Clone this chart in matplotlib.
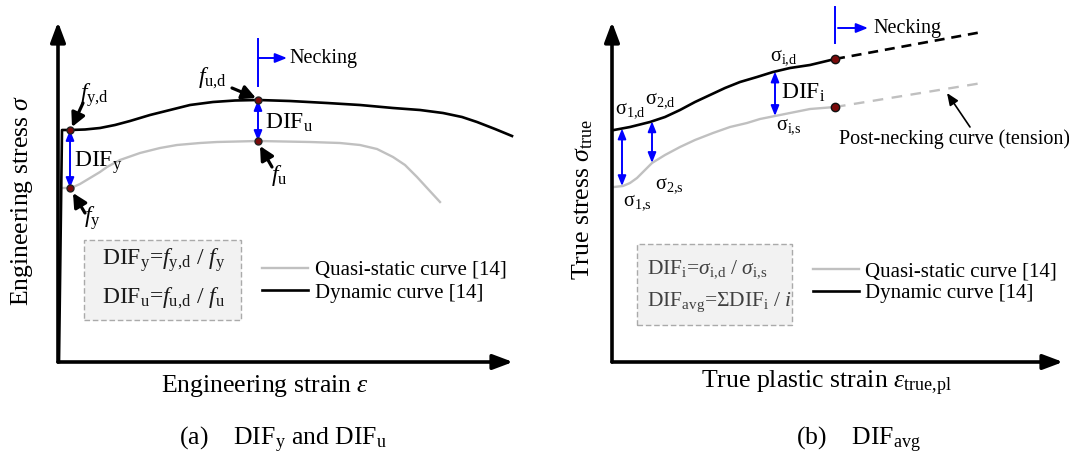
import matplotlib
matplotlib.use("Agg")
import matplotlib.pyplot as plt
import numpy as np
from matplotlib.patches import Rectangle

plt.rcParams['font.family'] = ['Liberation Serif', 'DejaVu Serif']
plt.rcParams['mathtext.fontset'] = 'custom'
plt.rcParams['mathtext.rm'] = 'Liberation Serif'
plt.rcParams['mathtext.it'] = 'Liberation Serif:italic'
plt.rcParams['mathtext.bf'] = 'Liberation Serif:bold'

# (a) engineering stress-strain, schematic units
eng_strain_dyn = [1, 4, 12, 27, 42, 57, 72, 92, 112, 132, 155, 177, 200, 232, 269,
                  302, 335, 362, 385, 404, 419, 437, 454]
eng_stress_dyn = [0, 232, 232, 232.5, 234, 237, 241, 247, 252, 257, 260, 261.5, 262,
                  261, 259, 257, 254, 252, 249, 245, 240, 233, 226]
eng_strain_qs = [5, 13, 22, 32, 42, 49, 62, 82, 102, 119, 142, 159, 200, 252, 282,
                 302, 319, 335, 347, 359, 370, 382]
eng_stress_qs = [174, 174, 178, 184, 190, 195, 202, 209, 214, 217, 219, 220, 221,
                 220, 219, 217, 213, 205, 197, 185, 173, 160]
yield_strain = 12
ult_strain = 200

# (b) true stress vs true plastic strain
true_strain_dyn = [2, 18, 38, 53, 68, 83, 98, 113, 128, 145, 161, 178, 198, 223]
true_stress_dyn = [232, 235, 240, 245, 252, 260, 267, 274, 280, 285, 290, 294, 297, 303]
true_strain_qs = [2, 11, 18, 25, 33, 40, 53, 68, 83, 101, 118, 135, 148, 163, 183, 198, 223]
true_stress_qs = [175, 176, 179, 184, 192, 199, 207, 215, 222, 229, 235, 239, 243, 246,
                  250, 253, 255]
post_strain = [223, 370]
post_stress_dyn = [303, 330]
post_stress_qs = [255, 279]
dif_strains = [10, 40, 163]

GRAY = '#c0c0c0'
BLUE = '#0000ff'
MARK = '#7a0a0a'

fig = plt.figure(figsize=(10.69, 4.61), dpi=100)
ax1 = fig.add_axes([0, 0, 540 / 1069, 1])
ax1.set_xlim(-58, 482)
ax1.set_ylim(-99, 362)
ax2 = fig.add_axes([540 / 1069, 0, 529 / 1069, 1])
ax2.set_xlim(-72, 457)
ax2.set_ylim(-99, 362)


def draw_axes(ax, xmax, ymax):
    style = '-|>,head_length=0.4,head_width=0.15'
    for end in [(xmax, 0), (0, ymax)]:
        ax.annotate('', xy=end, xytext=(0, 0),
                    arrowprops=dict(arrowstyle=style, lw=2.6, color='k',
                                    mutation_scale=30, shrinkA=0, shrinkB=0))
    ax.set_axis_off()


def arrow(ax, start, end, style, color, lw, scale):
    ax.annotate('', xy=end, xytext=start,
                arrowprops=dict(arrowstyle=style, lw=lw, color=color,
                                mutation_scale=scale, shrinkA=0, shrinkB=0))


dbl = '<|-|>,head_length=0.5,head_width=0.2'
ptr = '-|>,head_length=0.55,head_width=0.28'

# ---- panel (a)
draw_axes(ax1, 455, 340)
qs1, = ax1.plot(eng_strain_qs, eng_stress_qs, color=GRAY, lw=1.7)
dyn1, = ax1.plot(eng_strain_dyn, eng_stress_dyn, color='k', lw=1.9)

fyd = np.interp(yield_strain, eng_strain_dyn[1:], eng_stress_dyn[1:])
fy = np.interp(yield_strain, eng_strain_qs, eng_stress_qs)
fud = np.interp(ult_strain, eng_strain_dyn[1:], eng_stress_dyn[1:])
fu = np.interp(ult_strain, eng_strain_qs, eng_stress_qs)
arrow(ax1, (yield_strain, fy), (yield_strain, fyd), dbl, BLUE, 1.4, 12)
arrow(ax1, (ult_strain, fu), (ult_strain, fud), dbl, BLUE, 1.4, 12)
ax1.plot([yield_strain, yield_strain, ult_strain, ult_strain], [fyd, fy, fud, fu],
         'o', ms=5, mfc=MARK, mec='#222222', mew=1, zorder=5)

arrow(ax1, (25, 259), (14, 235), ptr, 'k', 2.3, 15)
arrow(ax1, (27, 149), (15, 169), ptr, 'k', 2.3, 15)
arrow(ax1, (174, 274), (198, 264), ptr, 'k', 2.3, 15)
arrow(ax1, (214, 195), (202, 216), ptr, 'k', 2.3, 15)
ax1.text(22, 267, r'$f_{\text{y,d}}$', fontsize=17, va='center')
ax1.text(26, 144, r'$f_{\text{y}}$', fontsize=17, va='center')
ax1.text(140, 284, r'$f_{\text{u,d}}$', fontsize=17, va='center')
ax1.text(213, 187, r'$f_{\text{u}}$', fontsize=17, va='center')
ax1.text(16, 195, r'DIF$_{\text{y}}$', fontsize=17, va='baseline')
ax1.text(207, 233, r'DIF$_{\text{u}}$', fontsize=17, va='baseline')

# necking marker
ax1.plot([ult_strain, ult_strain], [276, 323], color=BLUE, lw=1.4)
arrow(ax1, (ult_strain, 304), (229, 304), '-|>,head_length=0.5,head_width=0.2', BLUE, 1.4, 14)
ax1.text(231, 304, 'Necking', fontsize=14.5, va='center')

ax1.add_patch(Rectangle((26, 42), 157, 80, facecolor='#f2f2f2', edgecolor='#aaaaaa',
                        lw=1, ls=(0, (4, 2))))
ax1.text(44, 97, r'DIF$_{\text{y}}$=$f_{\text{y,d}}$ / $f_{\text{y}}$',
         fontsize=17, va='baseline', color='#1a1a1a')
ax1.text(44, 59, r'DIF$_{\text{u}}$=$f_{\text{u,d}}$ / $f_{\text{u}}$',
         fontsize=17, va='baseline', color='#1a1a1a')
ax1.legend([qs1, dyn1], ['Quasi-static curve [14]', 'Dynamic curve [14]'],
           loc='center left', bbox_to_anchor=(204, 80.5), bbox_transform=ax1.transData,
           frameon=False, fontsize=15, handlelength=2.2, handletextpad=0.34,
           labelspacing=0.15, borderpad=0, borderaxespad=0)

ax1.text(-36, 162, r'Engineering stress $\sigma$', fontsize=18.5, rotation=90,
         ha='center', va='center')
ax1.text(207, -24, r'Engineering strain $\varepsilon$', fontsize=18.5,
         ha='center', va='center')
ax1.text(225, -78, r'(a)    DIF$_{\text{y}}$ and DIF$_{\text{u}}$', fontsize=18.5,
         ha='center', va='center')

# ---- panel (b)
draw_axes(ax2, 451, 340)
qs2, = ax2.plot(true_strain_qs, true_stress_qs, color=GRAY, lw=1.7)
dyn2, = ax2.plot(true_strain_dyn, true_stress_dyn, color='k', lw=1.9)
ax2.plot(post_strain, post_stress_dyn, color='k', lw=1.9, ls=(0, (3.8, 2.6)))
ax2.plot(post_strain, post_stress_qs, color=GRAY, lw=1.7, ls=(0, (4.5, 3.6)))
ax2.plot([post_strain[0], post_strain[0]], [post_stress_dyn[0], post_stress_qs[0]],
         'o', ms=6, mfc=MARK, mec='#111111', mew=1, zorder=5)

for s in dif_strains:
    top = np.interp(s, true_strain_dyn, true_stress_dyn)
    bot = np.interp(s, true_strain_qs, true_stress_qs)
    arrow(ax2, (s, bot), (s, top), dbl, BLUE, 1.4, 12)

sig = dict(fontsize=14.5, va='center')
ax2.text(3, 252, r'σ$_{\text{1,d}}$', **sig)
ax2.text(33, 262, r'σ$_{\text{2,d}}$', **sig)
ax2.text(158, 305, r'σ$_{\text{i,d}}$', **sig)
ax2.text(11, 160, r'σ$_{\text{1,s}}$', **sig)
ax2.text(43, 177, r'σ$_{\text{2,s}}$', **sig)
ax2.text(164, 236, r'σ$_{\text{i,s}}$', **sig)
ax2.text(169, 263, r'DIF$_{\text{i}}$', fontsize=17, va='baseline')

ax2.plot([post_strain[0], post_strain[0]], [319, 355], color=BLUE, lw=1.4)
arrow(ax2, (226, 334), (256, 334), '-|>,head_length=0.5,head_width=0.2', BLUE, 1.4, 14)
ax2.text(261, 334, 'Necking', fontsize=14.5, va='center')

arrow(ax2, (358, 235), (335, 269), '-|>,head_length=0.6,head_width=0.25', 'k', 1.2, 12)
ax2.text(227, 223, 'Post-necking curve (tension)', fontsize=14.5, va='center')

ax2.add_patch(Rectangle((25, 37), 155, 81, facecolor='#f2f2f2', edgecolor='#aaaaaa',
                        lw=1, ls=(0, (4, 2))))
ax2.text(35, 89, r'DIF$_{\text{i}}$=$\sigma_{\text{i,d}}$ / $\sigma_{\text{i,s}}$',
         fontsize=15.5, va='baseline', color='#404040')
ax2.text(35, 56, r'DIF$_{\text{avg}}$=ΣDIF$_{\text{i}}$ / $i$',
         fontsize=15.5, va='baseline', color='#404040')
ax2.legend([qs2, dyn2], ['Quasi-static curve [14]', 'Dynamic curve [14]'],
           loc='center left', bbox_to_anchor=(201, 79.5), bbox_transform=ax2.transData,
           frameon=False, fontsize=15, handlelength=2.2, handletextpad=0.3,
           labelspacing=0.08, borderpad=0, borderaxespad=0)

ax2.text(-29, 162, r'True stress $\sigma_{\text{true}}$', fontsize=18.5, rotation=90,
         ha='center', va='center')
ax2.text(214, -21, r'True plastic strain $\varepsilon_{\text{true,pl}}$', fontsize=18.5,
         ha='center', va='center')
ax2.text(247, -78, r'(b)    DIF$_{\text{avg}}$', fontsize=18.5, ha='center', va='center')

fig.savefig('out.png', dpi=100)
